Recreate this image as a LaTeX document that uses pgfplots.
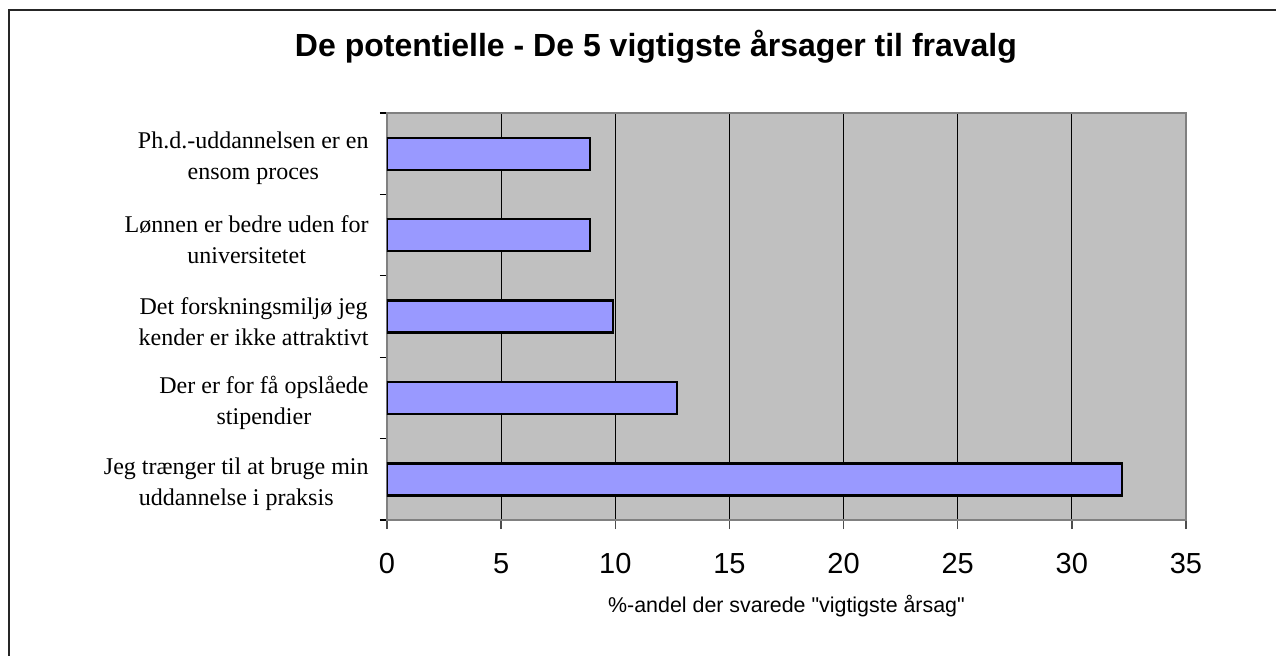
\documentclass[border=0pt]{standalone}
\usepackage{fontspec}
\setmainfont{Liberation Serif}
\newfontfamily\arial{Liberation Sans}
\usepackage{pgfplots}
\pgfplotsset{compat=1.18}
\definecolor{plotbg}{HTML}{C0C0C0}
\definecolor{barfill}{HTML}{9999FF}
\definecolor{boxgray}{HTML}{808080}
\begin{document}
\begin{tikzpicture}
\begin{axis}[
  at={(0,0)}, anchor=south west,
  scale only axis, width=399.5pt, height=203.5pt,
  xbar, bar width=16pt,
  xmin=0, xmax=35, ymin=0.5, ymax=5.5,
  xtick={0,5,...,35},
  ytick={1,2,3,4,5},
  minor ytick={0.5,1.5,2.5,3.5,4.5,5.5},
  yticklabels={
    {Jeg trænger til at bruge min\\uddannelse i praksis},
    {Der er for få opslåede\\stipendier},
    {Det forskningsmiljø jeg\\kender er ikke attraktivt},
    {Lønnen er bedre uden for\\universitetet},
    {Ph.d.-uddannelsen er en\\ensom proces}},
  xtick pos=bottom, ytick pos=left,
  tick align=outside,
  major tick length=4.5pt, minor tick length=3.5pt,
  major y tick style={draw=none},
  minor y tick style={black, line width=0.6pt},
  x tick style={boxgray!60!black, line width=0.7pt},
  xmajorgrids, grid style={black, line width=0.5pt},
  axis background/.style={fill=plotbg},
  axis line style={boxgray, line width=1pt},
  /pgf/number format/assume math mode=true,
  xticklabel style={font=\arial\fontsize{14.5}{17}\selectfont, anchor=base, yshift=-22pt},
  yticklabel style={font=\fontsize{12}{15.5}\selectfont, align=center, anchor=east, inner sep=0pt, xshift=-4.5pt, yshift=-2.5pt},
  xlabel={\%-andel der svarede "vigtigste årsag"},
  xlabel style={at={(axis description cs:0.5,0)}, anchor=base, yshift=-46pt, font=\arial\fontsize{10.7}{13}\selectfont},
]
\addplot[fill=barfill, draw=black, line width=1.2pt] coordinates {
  (32.2,1) (12.7,2) (9.9,3) (8.9,4) (8.9,5)
};
\end{axis}
\node[anchor=base, font=\arial\bfseries\fontsize{16}{19}\selectfont] at (134.5pt,232pt)
  {De potentielle - De 5 vigtigste årsager til fravalg};
\draw[line width=1pt, black!85] (-188.85pt,-120pt) rectangle (520pt,254.9pt);
\pgfresetboundingbox
\useasboundingbox (-193.5pt,-67.5pt) rectangle (444.5pt,260pt);
\end{tikzpicture}
\end{document}
